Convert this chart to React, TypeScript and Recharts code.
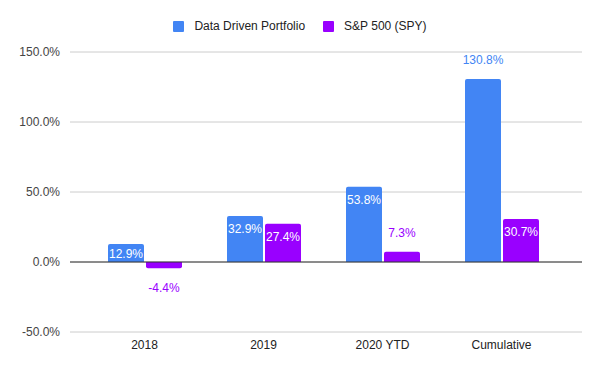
import React from 'react';
import { BarChart, Bar, XAxis, YAxis, CartesianGrid, Legend, ReferenceLine, LabelList } from 'recharts';

const categories = ['2018', '2019', '2020 YTD', 'Cumulative'];
const portfolio = [12.9, 32.9, 53.8, 130.8];
const spy = [-4.4, 27.4, 7.3, 30.7];
const yTicks = [-50, 0, 50, 100, 150];

const BLUE = '#4285f4';
const PURPLE = '#9900ff';

const data = categories.map((name, i) => ({ name, portfolio: portfolio[i], spy: spy[i] }));

const fmt = (v: number) => `${v.toFixed(1)}%`;

// google-sheets style: label inside the bar top if it fits, else outside in series colour
const makeLabel = (color: string) => (props: any) => {
  const { x, y, width, height, value } = props;
  const cx = x + width / 2;
  const h = Math.abs(height);
  if (value < 0) {
    const bottom = Math.max(y, y + height);
    return (
      <text x={cx} y={bottom + 20} fill={color} fontSize={12} textAnchor="middle" dominantBaseline="central">
        {fmt(value)}
      </text>
    );
  }
  const inside = h >= 15 && value < 100;
  if (inside) {
    const dy = Math.min(13, h / 2 + 1);
    return (
      <text x={cx} y={y + dy} fill="#fff" fontSize={12} textAnchor="middle" dominantBaseline="central">
        {fmt(value)}
      </text>
    );
  }
  return (
    <text x={cx} y={y - 19} fill={color} fontSize={12} textAnchor="middle" dominantBaseline="central">
      {fmt(value)}
    </text>
  );
};

const LegendBox = (props: any) => {
  const { payload } = props;
  return (
    <div style={{ display: 'flex', justifyContent: 'center', fontSize: 12, color: '#222', lineHeight: '14px' }}>
      {payload.map((p: any, i: number) => (
        <div key={p.value} style={{ display: 'flex', alignItems: 'center', marginLeft: i ? 18 : 0 }}>
          <span style={{ width: 11, height: 11, background: p.color, borderRadius: 1, marginRight: 10, display: 'inline-block' }} />
          <span>{p.value}</span>
        </div>
      ))}
    </div>
  );
};

export default function App() {
  return (
    <div style={{ position: 'absolute', left: 0, top: 0, width: 600, height: 371, background: '#fff', fontFamily: 'Arial, "Liberation Sans", sans-serif' }}>
      <BarChart
        width={600}
        height={371}
        data={data}
        margin={{ top: 38, right: 18, left: 8, bottom: 9 }}
        barGap={2}
        barCategoryGap="19%"
      >
        <CartesianGrid vertical={false} stroke="#cccccc" />
        <XAxis
          dataKey="name"
          axisLine={false}
          tickLine={false}
          padding={{ left: 15, right: 21 }}
          tick={{ fill: '#222', fontSize: 12 }}
          height={30}
          tickMargin={2}
        />
        <YAxis
          domain={[-50, 150]}
          ticks={yTicks}
          width={62}
          axisLine={false}
          tickLine={false}
          tickFormatter={(v: number) => fmt(v)}
          tick={{ fill: '#444', fontSize: 12 }}
          tickMargin={4}
        />
        <ReferenceLine y={0} stroke="#333" strokeWidth={1} />
        <Legend
          verticalAlign="top"
          align="center"
          wrapperStyle={{ top: 19, left: 0, width: 600 }}
          content={<LegendBox />}
        />
        <Bar dataKey="portfolio" name="Data Driven Portfolio" fill={BLUE} barSize={36} radius={[2, 2, 0, 0]} isAnimationActive={false}>
          <LabelList dataKey="portfolio" content={makeLabel(BLUE)} />
        </Bar>
        <Bar dataKey="spy" name="S&P 500 (SPY)" fill={PURPLE} barSize={36} radius={[2, 2, 0, 0]} isAnimationActive={false}>
          <LabelList dataKey="spy" content={makeLabel(PURPLE)} />
        </Bar>
      </BarChart>
    </div>
  );
}
